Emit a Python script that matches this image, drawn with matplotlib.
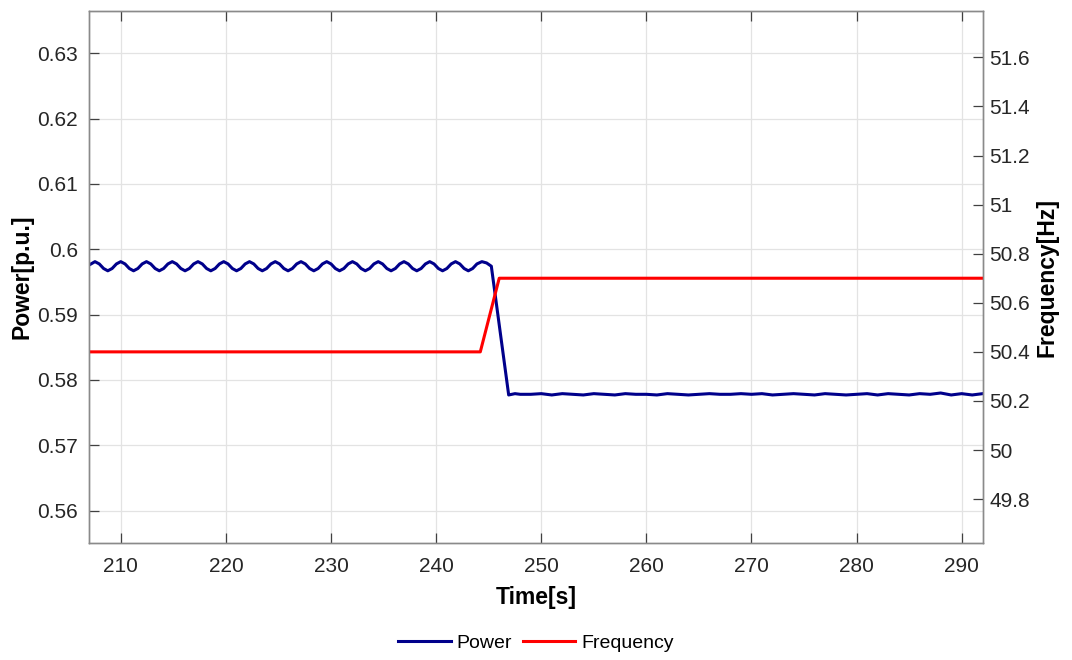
import matplotlib.pyplot as plt
from matplotlib import font_manager as fm
import numpy as np

plt.rcParams['font.family'] = ['Liberation Sans', 'DejaVu Sans']

# Power before the step: peak / mid / trough samples
t_before = [207.00,
            207.54, 207.95, 208.36, 208.76, 209.17, 209.58,
            209.99, 210.40, 210.81, 211.21, 211.62, 212.03,
            212.44, 212.85, 213.26, 213.66, 214.07, 214.48,
            214.89, 215.30, 215.71, 216.11, 216.52, 216.93,
            217.34, 217.75, 218.16, 218.56, 218.97, 219.38,
            219.79, 220.20, 220.61, 221.01, 221.42, 221.83,
            222.24, 222.65, 223.06, 223.46, 223.87, 224.28,
            224.69, 225.10, 225.51, 225.91, 226.32, 226.73,
            227.14, 227.55, 227.96, 228.36, 228.77, 229.18,
            229.59, 230.00, 230.41, 230.81, 231.22, 231.63,
            232.04, 232.45, 232.86, 233.26, 233.67, 234.08,
            234.49, 234.90, 235.31, 235.71, 236.12, 236.53,
            236.94, 237.35, 237.76, 238.16, 238.57, 238.98,
            239.39, 239.80, 240.21, 240.61, 241.02, 241.43,
            241.84, 242.25, 242.66, 243.06, 243.47, 243.88,
            244.35, 244.80, 245.25]
p_before = [0.5976,
            0.5981, 0.59775, 0.59705, 0.5967, 0.59705, 0.59775,
            0.5981, 0.59775, 0.59705, 0.5967, 0.59705, 0.59775,
            0.5981, 0.59775, 0.59705, 0.5967, 0.59705, 0.59775,
            0.5981, 0.59775, 0.59705, 0.5967, 0.59705, 0.59775,
            0.5981, 0.59775, 0.59705, 0.5967, 0.59705, 0.59775,
            0.5981, 0.59775, 0.59705, 0.5967, 0.59705, 0.59775,
            0.5981, 0.59775, 0.59705, 0.5967, 0.59705, 0.59775,
            0.5981, 0.59775, 0.59705, 0.5967, 0.59705, 0.59775,
            0.5981, 0.59775, 0.59705, 0.5967, 0.59705, 0.59775,
            0.5981, 0.59775, 0.59705, 0.5967, 0.59705, 0.59775,
            0.5981, 0.59775, 0.59705, 0.5967, 0.59705, 0.59775,
            0.5981, 0.59775, 0.59705, 0.5967, 0.59705, 0.59775,
            0.5981, 0.59775, 0.59705, 0.5967, 0.59705, 0.59775,
            0.5981, 0.59775, 0.59705, 0.5967, 0.59705, 0.59775,
            0.5981, 0.59775, 0.59705, 0.5967, 0.59705, 0.59775,
            0.5981, 0.5979, 0.5974]

# Power after the step
t_after = [246.9, 247.5, 248.0, 249.0, 250.0, 251.0, 252.0, 253.0, 254.0, 255.0,
           256.0, 257.0, 258.0, 259.0, 260.0, 261.0, 262.0, 263.0, 264.0, 265.0,
           266.0, 267.0, 268.0, 269.0, 270.0, 271.0, 272.0, 273.0, 274.0, 275.0,
           276.0, 277.0, 278.0, 279.0, 280.0, 281.0, 282.0, 283.0, 284.0, 285.0,
           286.0, 287.0, 288.0, 289.0, 290.0, 291.0, 292.0]
p_after = [0.5777, 0.5779, 0.5778, 0.5778, 0.5779, 0.5777, 0.5779, 0.5778, 0.5777, 0.5779,
           0.5778, 0.5777, 0.5779, 0.5778, 0.5778, 0.5777, 0.5779, 0.5778, 0.5777, 0.5778,
           0.5779, 0.5778, 0.5778, 0.5779, 0.5778, 0.5779, 0.5777, 0.5778, 0.5779, 0.5778,
           0.5777, 0.5779, 0.5778, 0.5777, 0.5778, 0.5779, 0.5777, 0.5779, 0.5778, 0.5777,
           0.5779, 0.5778, 0.5780, 0.5777, 0.5779, 0.5777, 0.5779]

time_p = t_before + t_after
power = p_before + p_after

time_f = [207.0, 244.2, 246.0, 292.0]
freq = [50.4, 50.4, 50.7, 50.7]

# pick the regular (not Narrow) Liberation Sans Bold file
bold_path = None
for f in fm.findSystemFonts():
    if f.endswith('LiberationSans-Bold.ttf'):
        bold_path = f
        break
if bold_path:
    lab_font = dict(fontproperties=fm.FontProperties(fname=bold_path, size=16.5))
else:
    lab_font = dict(fontsize=16.5, fontweight='bold')

fig = plt.figure(figsize=(10.72, 6.6), dpi=100)
ax = fig.add_axes([0.0833, 0.1768, 0.8334, 0.807])
ax2 = ax.twinx()

ln1, = ax.plot(time_p, power, color='#00008B', lw=2.2, label='Power')
ln2, = ax2.plot(time_f, freq, color='#FF0000', lw=2.2, label='Frequency')

ax.set_xlim(207, 292)
ax.set_ylim(0.555, 0.6365)
ax2.set_ylim(49.62, 51.79)

ax.set_xticks(np.arange(210, 291, 10))
ax.set_yticks(np.arange(0.56, 0.6301, 0.01))
ax.set_yticklabels(['0.56', '0.57', '0.58', '0.59', '0.6', '0.61', '0.62', '0.63'])
ax2.set_yticks(np.arange(49.8, 51.61, 0.2))
ax2.set_yticklabels(['49.8', '50', '50.2', '50.4', '50.6', '50.8', '51', '51.2', '51.4', '51.6'])

ax.grid(True, color='#e3e3e3', lw=0.9)
ax.set_axisbelow(True)

for a in (ax, ax2):
    for s in a.spines.values():
        s.set_color('#8a8a8a')
        s.set_linewidth(1.0)
    a.tick_params(direction='in', length=7, color='#404040', labelsize=15,
                  labelcolor='#262626', width=0.9)
ax.tick_params(axis='x', top=True, pad=10)
ax.tick_params(axis='y', pad=8)
ax2.tick_params(axis='y', pad=5)

ax.set_xlabel('Time[s]', labelpad=7, **lab_font)
ax.set_ylabel('Power[p.u.]', labelpad=3, **lab_font)
ax2.set_ylabel('Frequency[Hz]', labelpad=4, **lab_font)

fig.legend(handles=[ln1, ln2], loc='center', bbox_to_anchor=(0.5, 1 - 642.7 / 660),
           ncol=2, frameon=False, fontsize=14, handlelength=2.7,
           columnspacing=0.55, handletextpad=0.3)

fig.savefig('out.png', dpi=100)
